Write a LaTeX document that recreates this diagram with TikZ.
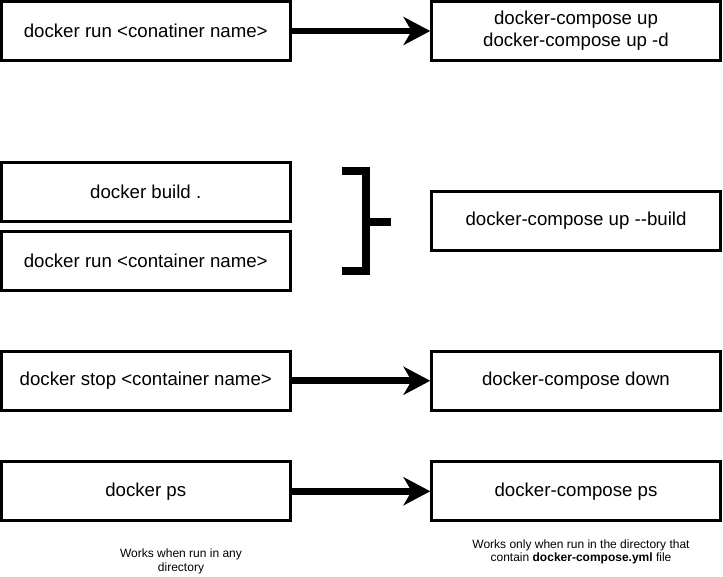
\documentclass[tikz,border=0pt]{standalone}
\usepackage{fontspec}
\setmainfont{Liberation Sans}
\usetikzlibrary{arrows.meta}

\begin{document}
\begin{tikzpicture}[x=0.75pt, y=-0.75pt,
	box/.style={draw, line width=2.25pt, minimum width=216.4pt, minimum height=43.9pt,
		inner sep=0pt, align=center, font=\fontsize{14}{16.5}\selectfont},
	arr/.style={line width=5pt, -{Stealth[length=20pt, width=21pt, inset=6pt]}},
	brk/.style={line width=6pt},
	note/.style={align=center, inner sep=0pt, font=\fontsize{9}{10.2}\selectfont}]
	\useasboundingbox (0,0) rectangle (723,576);
	% plain docker
	\node[box] (run) at (145.75,31) {docker run <conatiner name>};
	\node[box] (build) at (145.75,191.75) {docker build .};
	\node[box] (runc) at (145.75,261.25) {docker run <container name>};
	\node[box] (stop) at (145.75,380.75) {docker stop <container name>};
	\node[box] (ps) at (145.75,491.25) {docker ps};
	% docker-compose
	\node[box] (up) at (576,31) {docker-compose up\\docker-compose up -d};
	\node[box] (upb) at (576,220.75) {docker-compose up {-}{-}build};
	\node[box] (down) at (576,380.75) {docker-compose down};
	\node[box] (cps) at (576,491.25) {docker-compose ps};
	\foreach \a/\b in {run/up, stop/down, ps/cps} {
		\draw[arr] (\a) -- (\b);
	}
	% bracket
	\draw[brk] (342,171) -- (366,171) -- (366,271) -- (342,271);
	\draw[brk] (366,221.5) -- (391,221.5);
	% notes
	\node[note] (anydir) at (181,561.5) {Works when run in any\\directory};
	\node[note] (thisdir) at (581,552) {Works only when run in the directory that\\contain \textbf{docker-compose.yml} file};
\end{tikzpicture}
\end{document}
